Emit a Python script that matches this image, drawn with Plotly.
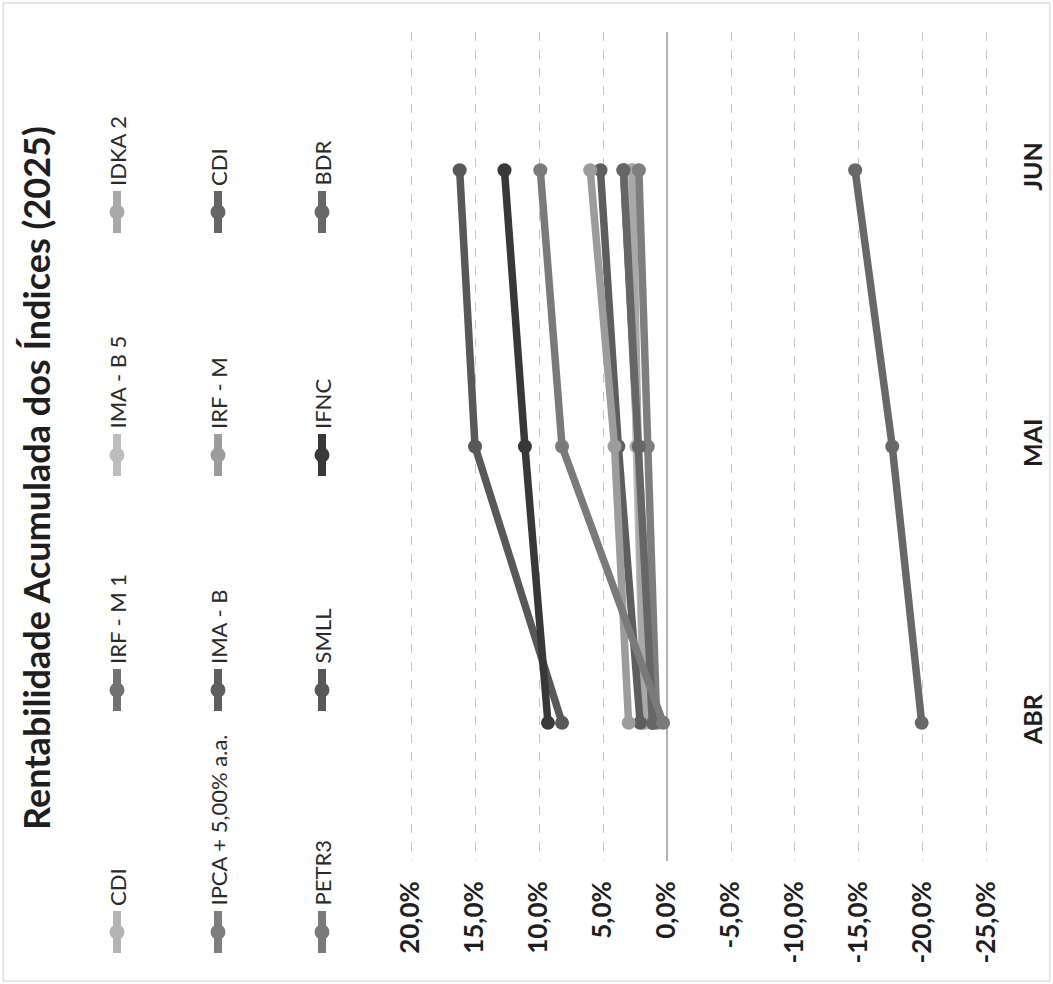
import plotly.graph_objects as go

W, H = 1053, 984

months = ["ABR", "MAI", "JUN"]

# accumulated returns (%)
cdi = [1.1, 2.2, 3.4]
irfm1 = [1.2, 2.3, 3.4]
imab5 = [1.8, 2.4, 2.8]
idka2 = [1.8, 2.3, 2.7]
ipca5 = [0.8, 1.5, 2.2]
imab = [2.1, 3.8, 5.2]
irfm = [3.0, 4.1, 6.0]
cdi2 = [1.1, 2.2, 3.4]
petr3 = [0.3, 8.2, 9.9]
smll = [8.2, 15.0, 16.2]
ifnc = [9.3, 11.1, 12.7]
bdr = [-19.9, -17.6, -14.7]

names = ["CDI", "IRF - M 1", "IMA - B 5", "IDKA 2",
         "IPCA + 5,00% a.a.", "IMA - B", "IRF - M", "CDI",
         "PETR3", "SMLL", "IFNC", "BDR"]
values = [cdi, irfm1, imab5, idka2, ipca5, imab, irfm, cdi2, petr3, smll, ifnc, bdr]
colors = ["#b4b4b4", "#727272", "#bdbdbd", "#a8a8a8",
          "#7e7e7e", "#5e5e5e", "#9c9c9c", "#666666",
          "#7a7a7a", "#585858", "#383838", "#686868"]

tick_vals = [20, 15, 10, 5, 0, -5, -10, -15, -20, -25]
tick_text = ["20,0%", "15,0%", "10,0%", "5,0%", "0,0%", "-5,0%",
             "-10,0%", "-15,0%", "-20,0%", "-25,0%"]

title = "Rentabilidade Acumulada dos Índices (2025)"

fig = go.Figure()

for n, v, c in zip(names, values, colors):
    fig.add_trace(go.Scatter(
        x=v, y=months, mode="lines+markers", name=n,
        line=dict(color=c, width=7.5),
        marker=dict(color=c, size=14),
        showlegend=False,
    ))

# rotated legend drawn in a pixel-coordinate overlay axis
col_x = [117, 218, 322]
row_y = [932, 690, 455, 212]
annotations = []
for i, (n, c) in enumerate(zip(names, colors)):
    col, row = divmod(i, 4)
    cx, cy = col_x[col], row_y[row]
    fig.add_trace(go.Scatter(
        x=[cx, cx], y=[cy - 21, cy + 21], mode="lines",
        line=dict(color=c, width=8), xaxis="x2", yaxis="y2",
        showlegend=False, hoverinfo="skip"))
    fig.add_trace(go.Scatter(
        x=[cx], y=[cy], mode="markers",
        marker=dict(color=c, size=15), xaxis="x2", yaxis="y2",
        showlegend=False, hoverinfo="skip"))
    annotations.append(dict(
        x=cx, y=cy - 24, xref="x2", yref="y2", text=n, showarrow=False,
        textangle=-90, xanchor="center", yanchor="bottom",
        font=dict(family="Lato, Open Sans, sans-serif", size=22, color="#2a2a2a")))

annotations.append(dict(
    x=36, y=478, xref="x2", yref="y2", text="<b>" + title + "</b>",
    showarrow=False, textangle=-90, xanchor="center", yanchor="middle",
    font=dict(family="Lato, Open Sans, sans-serif", size=36, color="#1e1e1e")))

fig.update_layout(
    width=W, height=H,
    margin=dict(l=0, r=0, t=0, b=0, pad=0),
    paper_bgcolor="white", plot_bgcolor="rgba(0,0,0,0)",
    xaxis=dict(
        domain=[410 / W, 988 / W], range=[20.08, -25.08], automargin=False,
        tickvals=tick_vals, ticktext=tick_text, tickangle=-90,
        showgrid=True, gridcolor="#c4c4c4", griddash="dash", gridwidth=1,
        zeroline=True, zerolinecolor="#b0b0b0", zerolinewidth=1.5,
        showline=False, ticks="", ticklabelstandoff=14,
        tickfont=dict(family="Lato, Open Sans, sans-serif", size=26, color="#1e1e1e", weight="bold"),
    ),
    yaxis=dict(
        domain=[1 - 861 / H, 1 - 32 / H], range=[-0.5, 2.5], automargin=False,
        type="category", categoryarray=months, side="right",
        tickangle=-90, showgrid=False, zeroline=False, showline=False,
        ticks="", ticklabelstandoff=28,
        tickfont=dict(family="Lato, Open Sans, sans-serif", size=25, color="#1e1e1e", weight="bold"),
    ),
    xaxis2=dict(domain=[0, 1], range=[0, W], visible=False, anchor="y2", automargin=False),
    yaxis2=dict(domain=[0, 1], range=[H, 0], visible=False, anchor="x2", automargin=False),
    annotations=annotations,
    shapes=[dict(type="rect", xref="paper", yref="paper", x0=0.003, x1=0.997,
                 y0=0.003, y1=0.997, line=dict(color="#cfcfcf", width=1))],
)

fig.write_html("out.html", config={"displayModeBar": False},
               post_script="document.body.style.margin='0';document.body.style.overflow='hidden';")
